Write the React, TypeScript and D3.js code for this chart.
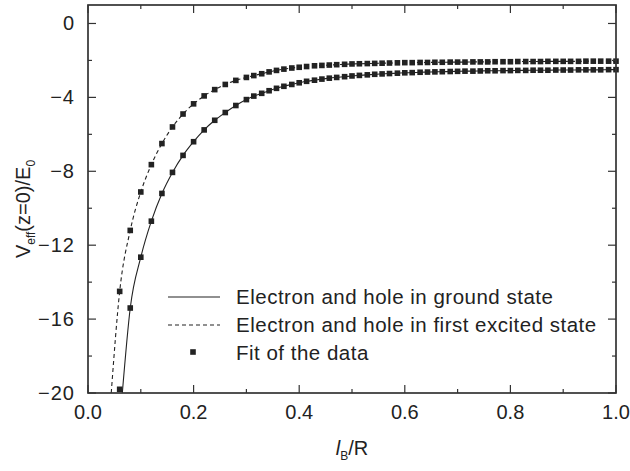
import React from 'react';
import { scaleLinear, line, curveMonotoneX, range } from 'd3';

// marker positions (l_B / R)
const fitX = [
  0.06, 0.08, 0.10, 0.12, 0.14, 0.16, 0.18, 0.20, 0.22, 0.24, 0.26, 0.28, 0.30,
  0.314, 0.329, 0.343, 0.357, 0.371, 0.386, 0.400, 0.414, 0.429, 0.443, 0.457, 0.471,
  0.486, 0.500, 0.514, 0.529, 0.543, 0.557, 0.571, 0.586, 0.600, 0.614, 0.629, 0.643,
  0.657, 0.671, 0.686, 0.700, 0.714, 0.729, 0.743, 0.757, 0.771, 0.786, 0.800, 0.814,
  0.829, 0.843, 0.857, 0.871, 0.886, 0.900, 0.914, 0.929, 0.943, 0.957, 0.971, 0.986, 1.000,
];

// excited state (upper curve)
const excitedY = [
  -14.5, -11.2, -9.12, -7.64, -6.50, -5.60, -4.90, -4.35, -3.92, -3.58, -3.30, -3.08, -2.92,
  -2.82, -2.72, -2.62, -2.54, -2.47, -2.41, -2.37, -2.33, -2.29, -2.27, -2.25, -2.23,
  -2.21, -2.19, -2.18, -2.17, -2.16, -2.15, -2.14, -2.13, -2.12, -2.12, -2.11, -2.11,
  -2.10, -2.10, -2.09, -2.09, -2.09, -2.08, -2.08, -2.08, -2.07, -2.07, -2.07, -2.06,
  -2.06, -2.06, -2.06, -2.05, -2.05, -2.05, -2.05, -2.05, -2.04, -2.04, -2.04, -2.04, -2.04,
];

// ground state (lower curve)
const groundY = [
  -19.8, -15.4, -12.65, -10.7, -9.2, -8.06, -7.14, -6.40, -5.76, -5.24, -4.82, -4.44, -4.12,
  -3.93, -3.78, -3.64, -3.51, -3.40, -3.30, -3.21, -3.13, -3.07, -3.01, -2.96, -2.92,
  -2.88, -2.84, -2.81, -2.78, -2.75, -2.73, -2.71, -2.69, -2.67, -2.66, -2.64, -2.63,
  -2.62, -2.61, -2.60, -2.59, -2.58, -2.58, -2.57, -2.56, -2.56, -2.55, -2.55, -2.54,
  -2.54, -2.53, -2.53, -2.53, -2.52, -2.52, -2.52, -2.51, -2.51, -2.51, -2.51, -2.50, -2.50,
];

// where the curves leave the bottom of the frame
const excitedStart = { x: 0.044, y: -20 };
const groundStart = { x: 0.065, y: -20 };

const xTicks = [0.0, 0.2, 0.4, 0.6, 0.8, 1.0];
const yTicks = [0, -4, -8, -12, -16, -20];
const legendLabels = [
  'Electron and hole in ground state',
  'Electron and hole in first excited state',
  'Fit of the data',
];

const W = 630;
const H = 471;
const margin = { top: 5, right: 14, bottom: 78, left: 88 };
const ink = '#222';
const font = 'Liberation Sans, Arial, Helvetica, sans-serif';
const fs = 20;

export default function App() {
  const x = scaleLinear().domain([0, 1]).range([margin.left, W - margin.right]);
  const y = scaleLinear().domain([-20, 1]).range([H - margin.bottom, margin.top]);

  const groundPts = [groundStart, ...fitX.slice(1).map((d, i) => ({ x: d, y: groundY[i + 1] }))];
  const excitedPts = [excitedStart, ...fitX.map((d, i) => ({ x: d, y: excitedY[i] }))];

  const path = line<{ x: number; y: number }>()
    .x((d) => x(d.x))
    .y((d) => y(d.y))
    .curve(curveMonotoneX);

  const x0 = x(0), x1 = x(1), y0 = y(-20), y1 = y(1);
  const minorX = range(0, 1.0001, 0.1);
  const minorY = range(0, -20.0001, -2);
  const sq = 5.6;

  return (
    <svg width={W} height={H} style={{ position: 'fixed', left: 0, top: 0, background: '#fff' }} fontFamily={font}>
      <defs>
        <clipPath id="plot">
          <rect x={x0} y={y1} width={x1 - x0} height={y0 - y1} />
        </clipPath>
      </defs>

      <g clipPath="url(#plot)">
        <path d={path(groundPts) ?? ''} fill="none" stroke={ink} strokeWidth={1.1} />
        <path d={path(excitedPts) ?? ''} fill="none" stroke={ink} strokeWidth={1.1} strokeDasharray="4,3" />
      </g>

      {fitX.map((d, i) => (
        <rect key={'e' + i} x={x(d) - sq / 2} y={y(excitedY[i]) - sq / 2} width={sq} height={sq} fill={ink} />
      ))}
      {fitX.map((d, i) => (
        <rect key={'g' + i} x={x(d) - sq / 2} y={y(groundY[i]) - sq / 2} width={sq} height={sq} fill={ink} />
      ))}

      {/* frame */}
      <rect x={x0} y={y1} width={x1 - x0} height={y0 - y1} fill="none" stroke="#333" strokeWidth={1.7} />

      {/* ticks, inward on all four sides */}
      {minorX.map((t, i) => {
        const len = i % 2 === 0 ? 8 : 4;
        return (
          <g key={'xt' + i} stroke="#333" strokeWidth={1.2}>
            <line x1={x(t)} x2={x(t)} y1={y0} y2={y0 - len} />
            <line x1={x(t)} x2={x(t)} y1={y1} y2={y1 + len} />
          </g>
        );
      })}
      {minorY.map((t, i) => {
        const len = i % 2 === 0 ? 8 : 4;
        return (
          <g key={'yt' + i} stroke="#333" strokeWidth={1.2}>
            <line x1={x0} x2={x0 + len} y1={y(t)} y2={y(t)} />
            <line x1={x1} x2={x1 - len} y1={y(t)} y2={y(t)} />
          </g>
        );
      })}

      {xTicks.map((t) => (
        <text key={'xl' + t} x={x(t)} y={y0 + 26} textAnchor="middle" fontSize={fs} fill={ink}>
          {t.toFixed(1)}
        </text>
      ))}
      {yTicks.map((t) => (
        <text key={'yl' + t} x={x0 - 13} y={y(t) + 7} textAnchor="end" fontSize={fs} fill={ink} letterSpacing={1}>
          {t < 0 ? '\u2212' + Math.abs(t) : String(t)}
        </text>
      ))}

      {/* axis titles */}
      <text x={x(0.5)} y={H - 16} textAnchor="middle" fontSize={fs} fill={ink}>
        <tspan fontStyle="italic">l</tspan>
        <tspan fontSize={12} dy={5}>B</tspan>
        <tspan dy={-5}>/R</tspan>
      </text>
      <text transform={`translate(30,${(y0 + y1) / 2 + 10}) rotate(-90)`} textAnchor="middle" fontSize={fs} fill={ink}>
        <tspan>V</tspan>
        <tspan fontSize={12} dy={5}>eff</tspan>
        <tspan dy={-5}>(z=0)/E</tspan>
        <tspan fontSize={12} dy={5}>0</tspan>
      </text>

      {/* legend */}
      <g fontSize={20.5} fill={ink} letterSpacing={0.5}>
        <line x1={168} x2={220} y1={297} y2={297} stroke={ink} strokeWidth={1.1} />
        <line x1={168} x2={220} y1={325} y2={325} stroke={ink} strokeWidth={1.1} strokeDasharray="4,3" />
        <rect x={193 - sq / 2} y={352 - sq / 2} width={sq} height={sq} fill={ink} />
        {legendLabels.map((s, i) => (
          <text key={s} x={236} y={297 + i * 28 + 7}>{s}</text>
        ))}
      </g>
    </svg>
  );
}
